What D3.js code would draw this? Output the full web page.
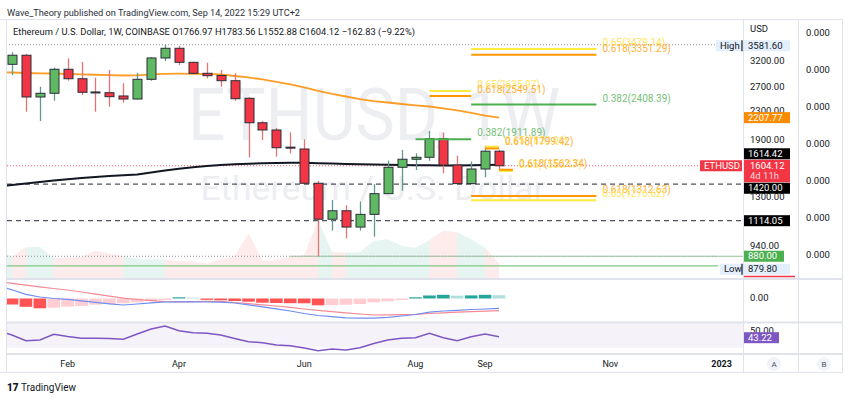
<!DOCTYPE html>
<html>
<head>
<meta charset="utf-8">
<script src="https://cdn.jsdelivr.net/npm/d3@7"></script>
<style>
  body { margin: 0; background: #fff; }
  svg { display: block; font-family: Roboto, "Liberation Sans", sans-serif; }
</style>
</head>
<body>
<svg id="chart" width="850" height="399"></svg>
<script>
// weekly bars, ETH/USD Coinbase (first week sits just left of the visible pane)
const weeks = ["2022-01-03","2022-01-10","2022-01-17","2022-01-24","2022-01-31","2022-02-07","2022-02-14",
  "2022-02-21","2022-02-28","2022-03-07","2022-03-14","2022-03-21","2022-03-28","2022-04-04","2022-04-11",
  "2022-04-18","2022-04-25","2022-05-02","2022-05-09","2022-05-16","2022-05-23","2022-05-30","2022-06-06",
  "2022-06-13","2022-06-20","2022-06-27","2022-07-04","2022-07-11","2022-07-18","2022-07-25","2022-08-01",
  "2022-08-08","2022-08-15","2022-08-22","2022-08-29","2022-09-05","2022-09-12"];
const open  = [3765,3145,3340,2532,2595,3043,2858,2618,2605,2549,2498,2847,3280,3498,3187,2963,2920,2821,2510,
  2134,2034,1815,1793,1428,1125,1190,1068,1162,1333,1588,1675,1697,1920,1612,1425,1570,1766.97];
const high  = [3900,3406,3370,2710,3076,3273,3194,2878,3028,2773,2975,3300,3581.60,3551,3200,3179,3028,2963,2530,
  2160,2060,2003,1912,1450,1278,1234,1265,1420,1659,1781,1742,2020,1998,1715,1650,1833,1783.56];
const low   = [3060,2930,2296,2159,2470,2821,2565,2296,2374,2438,2490,2820,3215,3131,2950,2866,2710,2470,1697,
  1903,1704,1742,1420,879.80,1043,991,1043,1002,1330,1360,1560,1659,1526,1419,1420,1486,1552.88];
const close = [3145,3340,2532,2595,3043,2858,2612,2610,2537,2498,2847,3280,3498,3187,2963,2916,2821,2503,2134,
  2034,1808,1805,1428,1125,1190,1068,1162,1333,1588,1675,1697,1920,1612,1425,1570,1766.97,1604.12];
const emaLine = [2990,2979,2969,2963,2959,2949,2943,2935,2926,2920,2924,2943,2953,2955,2953,2949,2940,2910,2882,
  2844,2800,2751,2697,2635,2583,2540,2498,2465,2441,2417,2396,2377,2349,2315,2277,2239,2207.77];
const maLine = [1400,1412,1426,1440,1455,1466,1479,1489,1499,1506,1514,1534,1555,1573,1588,1602,1612,1620,1626,
  1631,1634,1637,1637,1632,1628,1623,1620,1617,1615,1612,1610,1609,1608,1608,1610,1612,1614.42];
const volume = [2800,2130,3070,3130,2000,2050,2100,2730,2450,2200,1900,1850,1850,1700,1650,1450,1850,2200,4450,
  1730,1800,2100,2300,5800,2630,2530,2570,3700,3870,3230,3030,3800,4730,4570,3870,3030,1470];
const macd = [125,87,42,15,0,-8,-23,-38,-53,-65,-55,-43,-35,-33,-33,-35,-37,-45,-63,-83,-103,-125,-150,-170,
  -181,-193,-197,-197,-188,-175,-160,-137,-125,-118,-110,-105,-98];
const signal = [168,152,133,117,100,85,65,43,23,3,-10,-22,-31,-33,-31,-29,-29,-40,-51,-63,-75,-89,-105,-119,
  -131,-143,-155,-165,-164,-162,-159,-150,-143,-137,-131,-126,-122];
const hist = [-50,-60,-83,-98,-92,-82,-75,-62,-55,-48,-38,-25,-15,12,8,-13,-18,-25,-32,-42,-45,-47,-48,-68,
  -67,-62,-55,-38,-28,-15,12,30,37,28,31,37,33];
const rsi = [50,45.3,38.4,39.3,46.1,43.5,41.3,41.3,41.1,40.1,46.5,52.5,56.1,50.4,48.0,47.3,45.3,41.1,37.2,36.0,
  33.2,32.4,29.6,26.4,28.4,27.2,30.0,35.0,39.3,41.3,42.0,47.3,42.0,38.4,43.2,46.5,43.22];

const priceTicks = [3200, 2700, 2300, 1900, 1300, 940];
const monthTicks = ["2022-02-07","2022-04-04","2022-06-06","2022-08-01","2022-09-05","2022-11-07","2023-01-02"];
const monthLabels = ["Feb","Apr","Jun","Aug","Sep","Nov","2023"];

// fib extension levels drawn on the chart
const fibRatio = [0.65,0.618,0.382,0.65,0.618,0.382,0.65,0.618,0.65,0.618,0.618,0.65];
const fibPrice = [3479.14,3351.29,2408.39,2635.97,2549.51,1911.89,1820.06,1799.42,1550.17,1562.34,1312.63,1276.62];
const fibFrom = ["2022-08-29","2022-08-29","2022-08-29","2022-08-08","2022-08-08","2022-08-01","2022-09-05",
  "2022-09-05","2022-09-12","2022-09-12","2022-08-29","2022-08-29"];
const fibTo = ["2022-10-31","2022-10-31","2022-10-31","2022-08-29","2022-08-29","2022-08-29","2022-09-12",
  "2022-09-12","2022-09-19","2022-09-19","2022-10-31","2022-10-31"];

const dashedLevels = [1420, 1114.05];
const supportLevel = 880;
const greenLevel = 825;
const allHigh = 3581.60, allLow = 879.80;

// ---------------------------------------------------------------
const svg = d3.select("#chart");
const parse = d3.utcParse("%Y-%m-%d");
const dates = weeks.map(parse);

const paneL = 7, paneR = 743, axisR = 798, frameR = 842;
const mainT = 19, mainB = 278, macdT = 280, macdB = 322, rsiT = 323, rsiB = 353, timeB = 372;
const ink = "#131722", border = "#e0e3eb";

const x = d3.scaleUtc().domain([parse("2022-01-10"), parse("2022-09-12")]).range([12, 499]);
const y = d3.scaleLog().domain([940, 3200]).range([246.3, 61.7]);
const yVol = d3.scaleLinear().domain([0, 10000]).range([mainB, mainB - 100]);
const yMacd = d3.scaleLinear().domain([-200, 200]).range([318.5, 278.5]);
const yRsi = d3.scaleLinear().domain([30, 43.22]).range([347.7, 336.7]);
const yB = d3.scaleLinear().domain([4e-4, -2e-4]).range([33.3, 255.3]);

const defs = svg.append("defs");
function clip(id, x0, y0, w, h) {
  defs.append("clipPath").attr("id", id).append("rect").attr("x", x0).attr("y", y0).attr("width", w).attr("height", h);
  return svg.append("g").attr("clip-path", `url(#${id})`);
}

// header
svg.append("text").attr("x", 7).attr("y", 15.5).attr("font-size", 9.5).attr("fill", "#2a2e39")
  .attr("textLength", 293).attr("lengthAdjust", "spacingAndGlyphs")
  .text("Wave_Theory published on TradingView.com, Sep 14, 2022 15:29 UTC+2");

// RSI band background
const gRsi = clip("cRsi", paneL, rsiT, paneR - paneL, rsiB - rsiT);
gRsi.append("rect").attr("x", paneL).attr("width", paneR - paneL)
  .attr("y", yRsi(70)).attr("height", yRsi(30) - yRsi(70)).attr("fill", "#7e57c2").attr("opacity", 0.08);

// main pane
const gMain = clip("cMain", paneL, mainT, paneR - paneL, mainB - mainT);

// watermark
gMain.append("text").attr("x", 374).attr("y", 140).attr("text-anchor", "middle")
  .attr("font-size", 72).attr("fill", "#eceef1").attr("textLength", 372).attr("lengthAdjust", "spacingAndGlyphs")
  .text("ETHUSD, 1W");
gMain.append("text").attr("x", 373).attr("y", 200).attr("text-anchor", "middle")
  .attr("font-size", 34).attr("fill", "#eceef1").attr("textLength", 345).attr("lengthAdjust", "spacingAndGlyphs")
  .text("Ethereum / U.S. Dollar");

// volume area, one segment per week coloured by that week's candle
const up = i => close[i] >= open[i];
const volArea = d3.area().x(i => x(dates[i])).y0(mainB).y1(i => yVol(volume[i]));
for (let i = 1; i < dates.length; i++) {
  gMain.append("path").attr("d", volArea([i - 1, i]))
    .attr("fill", up(i) ? "rgba(8,153,129,0.10)" : "rgba(242,54,69,0.10)");
}

// horizontal levels
gMain.append("line").attr("x1", 0).attr("x2", 715).attr("y1", y(allHigh)).attr("y2", y(allHigh))
  .attr("stroke", "#9598a1").attr("stroke-dasharray", "1,2");
gMain.append("line").attr("x1", paneL).attr("x2", 718).attr("y1", y(allLow)).attr("y2", y(allLow))
  .attr("stroke", "#9598a1").attr("stroke-dasharray", "1,2");
gMain.append("line").attr("x1", x(parse("2022-05-30"))).attr("x2", paneR)
  .attr("y1", y(supportLevel)).attr("y2", y(supportLevel)).attr("stroke", "#9dbf9f").attr("stroke-width", 1.2);
gMain.append("line").attr("x1", paneL).attr("x2", 718).attr("y1", y(greenLevel)).attr("y2", y(greenLevel))
  .attr("stroke", "#81c784").attr("stroke-width", 1.2);
dashedLevels.forEach(v => {
  gMain.append("line").attr("x1", paneL).attr("x2", paneR).attr("y1", y(v)).attr("y2", y(v))
    .attr("stroke", "#50535e").attr("stroke-width", 1.3).attr("stroke-dasharray", "5,4");
});
const last = close.length - 1;
gMain.append("line").attr("x1", paneL).attr("x2", 700).attr("y1", y(close[last])).attr("y2", y(close[last]))
  .attr("stroke", "#f23645").attr("stroke-dasharray", "1,2").attr("opacity", 0.8);

// moving averages
const lineOf = arr => d3.line().x((d, i) => x(dates[i])).y(d => y(d))(arr);
gMain.append("path").attr("d", lineOf(emaLine)).attr("fill", "none").attr("stroke", "#fb8c00")
  .attr("stroke-width", 1.8).attr("opacity", 0.85);
gMain.append("path").attr("d", lineOf(maLine)).attr("fill", "none").attr("stroke", "#131722").attr("stroke-width", 2);

// candles
const bw = 9;
dates.forEach((d, i) => {
  const cx = Math.round(x(d)) + 0.5;
  gMain.append("line").attr("x1", cx).attr("x2", cx).attr("y1", y(high[i])).attr("y2", y(low[i]))
    .attr("stroke", up(i) ? "#5f9b8c" : "#e57373").attr("stroke-width", 1.3);
  const top = y(Math.max(open[i], close[i])), bot = y(Math.min(open[i], close[i]));
  gMain.append("rect").attr("x", cx - bw / 2).attr("width", bw)
    .attr("y", top).attr("height", Math.max(1, bot - top))
    .attr("fill", up(i) ? "#5fb862" : "#f23645").attr("stroke", "#2a2e39").attr("stroke-width", 1);
});

// fib levels
const fibColor = r => r === 0.382 ? "#4caf50" : (r === 0.618 ? "#ff9800" : "#ffeb3b");
const fibText = r => r === 0.382 ? "#76c07a" : (r === 0.618 ? "#ffb13d" : "#ffe55c");
fibPrice.forEach((p, i) => {
  const x1 = x(parse(fibFrom[i])), x2 = x(parse(fibTo[i])), yy = y(p);
  gMain.append("line").attr("x1", x1).attr("x2", x2).attr("y1", yy).attr("y2", yy)
    .attr("stroke", fibColor(fibRatio[i])).attr("stroke-width", 2);
  gMain.append("text").attr("x", x2 + 6).attr("y", yy - 3).attr("font-size", 10)
    .attr("fill", fibText(fibRatio[i])).text(`${fibRatio[i]}(${p.toFixed(2)})`);
});

// legend line
svg.append("text").attr("x", 13).attr("y", 34.5).attr("font-size", 9.5).attr("fill", ink)
  .attr("textLength", 402).attr("lengthAdjust", "spacingAndGlyphs")
  .text("Ethereum / U.S. Dollar, 1W, COINBASE  O1766.97  H1783.56  L1552.88  C1604.12  \u2212162.83 (\u22129.22%)");

// MACD pane
const gMacd = clip("cMacd", paneL, macdT, paneR - paneL, macdB - macdT);
hist.forEach((v, i) => {
  const prev = i > 0 ? hist[i - 1] : v;
  const col = v >= 0 ? (v >= prev ? "#26a69a" : "#b2dfdb") : (v < prev ? "#ff5252" : "#ffcdd2");
  const cx = x(dates[i]);
  gMacd.append("rect").attr("x", cx - 6.3).attr("width", 12.6)
    .attr("y", Math.min(yMacd(v), yMacd(0))).attr("height", Math.abs(yMacd(v) - yMacd(0)))
    .attr("fill", col);
});
const mLine = arr => d3.line().x((d, i) => x(dates[i])).y(d => yMacd(d))(arr);
gMacd.append("path").attr("d", mLine(signal)).attr("fill", "none").attr("stroke", "#f58a93").attr("stroke-width", 1.2);
gMacd.append("path").attr("d", mLine(macd)).attr("fill", "none").attr("stroke", "#6d8ef5").attr("stroke-width", 1.2);

// RSI line
gRsi.append("path").attr("d", d3.line().x((d, i) => x(dates[i])).y(d => yRsi(d))(rsi))
  .attr("fill", "none").attr("stroke", "#7e57c2").attr("stroke-width", 1.5);

// frame and separators
const fr = svg.append("g").attr("stroke", border).attr("fill", "none");
fr.append("line").attr("x1", 0).attr("x2", frameR + 1).attr("y1", mainT + 0.5).attr("y2", mainT + 0.5);
fr.append("line").attr("x1", paneL - 0.5).attr("x2", paneL - 0.5).attr("y1", mainT).attr("y2", timeB);
[paneR + 0.5, axisR + 0.5, frameR + 0.5].forEach(v =>
  fr.append("line").attr("x1", v).attr("x2", v).attr("y1", mainT).attr("y2", timeB));
[mainB + 1, macdB + 0.5, rsiB + 1].forEach(v =>
  fr.append("line").attr("x1", paneL).attr("x2", frameR).attr("y1", v).attr("y2", v).attr("stroke-width", 2));
fr.append("line").attr("x1", 0).attr("x2", frameR + 1).attr("y1", timeB + 0.5).attr("y2", timeB + 0.5);

// right price axis
const ax = svg.append("g").attr("font-size", 9.5).attr("fill", ink);
ax.append("text").attr("x", 750).attr("y", 29).attr("dominant-baseline", "middle").text("USD");
priceTicks.forEach(v => ax.append("text").attr("x", 750).attr("y", y(v)).attr("dominant-baseline", "middle")
  .text(d3.format(".2f")(v)));
ax.append("text").attr("x", 750).attr("y", yMacd(0)).attr("dominant-baseline", "middle").text("0.00");
ax.append("text").attr("x", 750).attr("y", yRsi(50)).attr("dominant-baseline", "middle").text("50.00");
yB.ticks(7).forEach(v => ax.append("text").attr("x", 806).attr("y", yB(v)).attr("dominant-baseline", "middle")
  .text(d3.format(".3f")(v)));

function tag(g, x0, yc, w, bg, fg, txt) {
  g.append("rect").attr("x", x0).attr("y", yc - 5.5).attr("width", w).attr("height", 11).attr("fill", bg);
  g.append("text").attr("x", x0 + 4).attr("y", yc + 0.5).attr("dominant-baseline", "middle")
    .attr("fill", fg).text(txt);
}
const tags = svg.append("g").attr("font-size", 9.5);

// current price box
const cy = y(close[last]);
tags.append("rect").attr("x", paneR + 1).attr("y", cy - 6).attr("width", 46).attr("height", 22.5).attr("fill", "#f23645");
tags.append("text").attr("x", 750).attr("y", cy + 0.5).attr("dominant-baseline", "middle").attr("fill", "#fff")
  .text(close[last].toFixed(2));
tags.append("text").attr("x", 750).attr("y", cy + 11).attr("dominant-baseline", "middle").attr("fill", "#fcd7da")
  .text("4d 11h");
tag(tags, 700, cy, 42, "#f23645", "#fff", "ETHUSD");

// other price labels, pushed away from the current price box
const above = [{v: maLine[last], bg: "#000"}, {v: emaLine[last], bg: "#fb8c00"}];
let edge = cy - 6;
above.forEach(l => {
  const c = Math.min(y(l.v), edge - 6);
  tag(tags, paneR + 1, c, 46, l.bg, "#fff", l.v.toFixed(2));
  edge = c - 5.5;
});
const below = [{v: 1420, bg: "#000"}, {v: 1114.05, bg: "#000"}, {v: supportLevel, bg: "#4caf50"}];
edge = cy + 16.5;
below.forEach(l => {
  const c = Math.max(y(l.v), edge + 6);
  tag(tags, paneR + 1, c, l.bg === "#4caf50" ? 40 : 46, l.bg, "#fff", l.v.toFixed(2));
  edge = c + 5.5;
});
tag(tags, paneR + 1, y(allHigh) + 1, 46, "#e3effd", ink, allHigh.toFixed(2));
tag(tags, 716, y(allHigh) + 1, 26, "#e3effd", ink, "High");
tags.append("line").attr("x1", 742).attr("x2", 742).attr("y1", y(allHigh) - 4.5).attr("y2", y(allHigh) + 6.5)
  .attr("stroke", ink).attr("stroke-width", 1.2);
const lowC = Math.max(y(allLow), edge + 7.5);
tag(tags, paneR + 1, lowC, 46, "#e3effd", ink, allLow.toFixed(2));
tag(tags, 720, lowC, 23, "#e3effd", ink, "Low");
tags.append("line").attr("x1", 742).attr("x2", 742).attr("y1", lowC - 5.5).attr("y2", lowC + 5.5)
  .attr("stroke", ink).attr("stroke-width", 1.2);
tags.append("line").attr("x1", paneR + 1).attr("x2", 795).attr("y1", 276.5).attr("y2", 276.5)
  .attr("stroke", "#f23645").attr("stroke-width", 1.5);
tag(tags, paneR + 1, yRsi(rsi[last]) + 1, 35, "#7e57c2", "#fff", rsi[last].toFixed(2));

// time axis
const tx = svg.append("g").attr("font-size", 9).attr("fill", ink);
monthTicks.forEach((m, i) => {
  tx.append("text").attr("x", x(parse(m))).attr("y", 365).attr("text-anchor", "middle")
    .attr("dominant-baseline", "middle").attr("font-weight", monthLabels[i] === "2023" ? "bold" : null)
    .text(monthLabels[i]);
});
[["A", 774], ["B", 824]].forEach(([t, cx]) => {
  tx.append("circle").attr("cx", cx).attr("cy", 364).attr("r", 7).attr("fill", "#f0f3fa");
  tx.append("text").attr("x", cx).attr("y", 364.5).attr("text-anchor", "middle")
    .attr("dominant-baseline", "middle").attr("font-size", 8).attr("fill", "#50535e").text(t);
});

// footer logo
svg.append("text").attr("x", 7).attr("y", 391).attr("font-size", 10).attr("font-weight", 900)
  .attr("fill", ink).text("17");
svg.append("text").attr("x", 21).attr("y", 391).attr("font-size", 10).attr("fill", ink).text("TradingView");
</script>
</body>
</html>
